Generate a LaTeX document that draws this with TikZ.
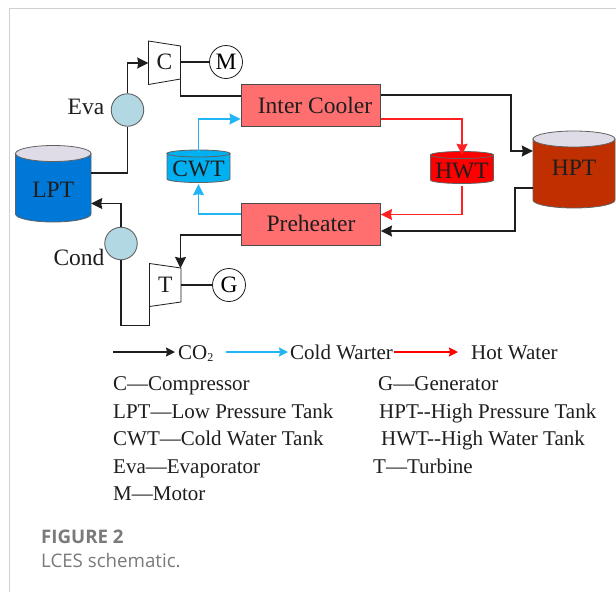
\documentclass[tikz,border=0pt]{standalone}
\usepackage{fontspec}
\setmainfont{Liberation Serif}
\newfontfamily\capfont{Open Sans}
\usetikzlibrary{arrows.meta,calc}
\definecolor{ink}{HTML}{1E1E1E}
\definecolor{lptblue}{HTML}{0078D7}
\definecolor{cwtblue}{HTML}{00B0F0}
\definecolor{hptred}{HTML}{BF2F00}
\definecolor{boxred}{HTML}{FF6F6F}
\definecolor{circ}{HTML}{B2D8E3}
\definecolor{lid}{HTML}{DFDCE8}
\definecolor{coldline}{HTML}{22B5F5}
\definecolor{hotline}{HTML}{FF2020}
\definecolor{capgray}{HTML}{7A7A7A}
\definecolor{frame}{HTML}{D0D0D0}
\tikzset{
  flow/.style={line width=1.5pt,-{Stealth[length=11pt,width=11pt,inset=1pt]},line join=miter},
  co/.style={flow,draw=ink},
  cold/.style={flow,draw=coldline},
  hot/.style={flow,draw=hotline},
  plainco/.style={line width=1.5pt,draw=ink,line join=miter},
  hx/.style={draw=ink!80,line width=0.9pt,fill=boxred,minimum width=139.5pt,minimum height=42.5pt,inner sep=0pt},
  hxc/.style={draw=ink!70,line width=0.9pt,fill=circ,circle,minimum size=32.5pt,inner sep=0pt},
  rot/.style={draw=ink,line width=0.8pt,fill=white,circle,minimum size=33pt,inner sep=0pt,font=\fontsize{23.5}{26}\selectfont},
  lab/.style={inner sep=0pt,text=ink,font=\fontsize{23.5}{26}\selectfont},
  leg/.style={inner sep=0pt,anchor=base west,text=ink,font=\fontsize{21}{24}\selectfont},
  legflow/.style={line width=1.5pt,-{Stealth[length=9pt,width=9pt,inset=1pt]}},
  captxt/.style={inner sep=0pt,anchor=base west,text=capgray},
  tankb/.style={draw=ink!70,line width=0.8pt}
}
\newcommand{\tank}[7]{% x0,x1,ytop,ybot,ry,body,lid
  \path[tankb,fill=#6] (#1,#3) -- (#1,#4) arc[start angle=180,end angle=0,x radius={(#2-#1)/2},y radius=#5] -- (#2,#3) -- cycle;
  \path[tankb,fill=#7] ({(#1+#2)/2},#3) ellipse[x radius={(#2-#1)/2},y radius=#5];
}
\begin{document}
\begin{tikzpicture}[x=1pt,y=-1pt]
\useasboundingbox (0,0) rectangle (616,592);
\fill[white] (0,0) rectangle (616,592);
\draw[frame,line width=1pt] (616,8) -- (9.5,8) -- (9.5,592);

% tanks
\tank{15.5}{91}{153.5}{214}{8}{lptblue}{lid}
\node[lab,minimum width=75.5pt,minimum height=75pt] (LPT) at (53.25,190) {LPT};
\tank{533}{615}{139}{200}{8}{hptred}{lid}
\node[lab,minimum width=82pt,minimum height=75pt] (HPT) at (574,168) {HPT};
\tank{167}{230}{153.5}{179}{3.5}{cwtblue}{cwtblue}
\node[lab,minimum width=63pt,minimum height=30pt] (CWT) at (198.5,169) {CWT};
\tank{430.5}{493.5}{155}{180}{3.5}{red}{red}
\node[lab,minimum width=63pt,minimum height=30pt] (HWT) at (462,171) {HWT};

% machines
\draw[ink,line width=0.8pt,fill=white] (148.5,41) -- (180.5,46) -- (180.5,79) -- (148.5,84.5) -- cycle;
\node[lab,minimum width=32pt,minimum height=33pt] (C) at (164.5,62) {C};
\draw[ink,line width=0.8pt,fill=white] (149.5,263.5) -- (181,268) -- (181,302) -- (149.5,306.5) -- cycle;
\node[lab,minimum width=31.5pt,minimum height=34pt] (T) at (165.25,285) {T};
\node[rot] (M) at (226,62) {M};
\node[rot] (G) at (229,285) {G};

% exchangers
\node[hxc] (Eva) at (127.5,110) {};
\node[hxc] (Cond) at (121,243.5) {};
\node[hx] (IC) at (310.75,105.5) {};
\node[lab] (ICt) at (315,105) {Inter Cooler};
\node[hx] (PH) at (310.75,224.5) {};
\node[lab] (PHt) at (311,223.5) {Preheater};
\node[lab] (EvaL) at (86,107) {Eva};
\node[lab] (CondL) at (79,257) {Cond};

% CO2 route
\coordinate (a1) at (127.5,173);
\draw[plainco] (LPT.east |- a1) -- (a1) -- (Eva.south);
\coordinate (a2) at (127.5,63);
\draw[co] (Eva.north) -- (a2) -- (C.west |- a2);
\draw[plainco] (C.east) -- (M.west);
\coordinate (a3) at (180.5,79);
\coordinate (a4) at (180.5,96);
\draw[plainco] (a3) -- (a4) -- (IC.west |- a4);
\coordinate (b1) at (381,95);
\coordinate (b2) at (511,95);
\coordinate (b3) at (511,151);
\draw[co] (IC.east |- b1) -- (b2) -- (b3) -- (HPT.west |- b3);
\coordinate (c1) at (515,188);
\coordinate (c2) at (515,231);
\draw[co] (HPT.west |- c1) -- (c1) -- (c2) -- (PH.east |- c2);
\coordinate (d1) at (180.5,235);
\coordinate (d2) at (180.5,268);
\draw[co] (PH.west |- d1) -- (d1) -- (d2);
\draw[plainco] (T.east) -- (G.west);
\coordinate (e1) at (121,325.5);
\coordinate (e2) at (149.5,325.5);
\coordinate (e3) at (149.5,306);
\draw[plainco] (Cond.south) -- (e1) -- (e2) -- (e3);
\coordinate (f1) at (121,203.5);
\draw[co] (Cond.north) -- (f1) -- (LPT.east |- f1);

% cold water
\coordinate (g1) at (198.5,119);
\draw[cold] ($(CWT.north)+(0,-1)$) -- (g1) -- (IC.west |- g1);
\coordinate (g2) at (198.5,214);
\draw[cold] (PH.west |- g2) -- (g2) -- (CWT.south);

% hot water
\coordinate (h1) at (462,119);
\draw[hot] (IC.east |- h1) -- (h1) -- ($(HWT.north)+(0,-1)$);
\coordinate (h2) at (462,214.5);
\draw[hot] (HWT.south) -- (h2) -- (PH.east |- h2);

% legend
\coordinate (k0) at (113,352);
\coordinate (k1) at (175,352);
\draw[legflow,draw=ink] (k0) -- (k1);
\node[leg] (l1) at (178,359) {CO\raisebox{-2.5pt}{\fontsize{12}{12}\selectfont 2}};
\coordinate (k2) at (226,352);
\coordinate (k3) at (288,352);
\draw[legflow,draw=coldline] (k2) -- (k3);
\node[leg] (l2) at (290,359) {Cold Warter};
\coordinate (k4) at (394,352);
\coordinate (k5) at (458,352);
\draw[legflow,draw=red] (k4) -- (k5);
\node[leg] (l3) at (471,359) {Hot Water};

\node[leg] (t1) at (113,390) {C—Compressor};
\node[leg] (t2) at (113,418) {LPT—Low Pressure Tank};
\node[leg] (t3) at (113,445) {CWT—Cold Water Tank};
\node[leg] (t4) at (113,473) {Eva—Evaporator};
\node[leg] (t5) at (113,500) {M—Motor};
\node[leg] (t6) at (378,390) {G—Generator};
\node[leg] (t7) at (379,418) {HPT-{}-High Pressure Tank};
\node[leg] (t8) at (381,445) {HWT-{}-High Water Tank};
\node[leg] (t9) at (373,473) {T—Turbine};

\node[captxt,font=\capfont\fontsize{18.7}{20}\selectfont\bfseries] (f) at (41,543) {FIGURE 2};
\node[captxt,font=\capfont\fontsize{18.7}{20}\selectfont] (s) at (41,567) {LCES schematic.};
\end{tikzpicture}
\end{document}
